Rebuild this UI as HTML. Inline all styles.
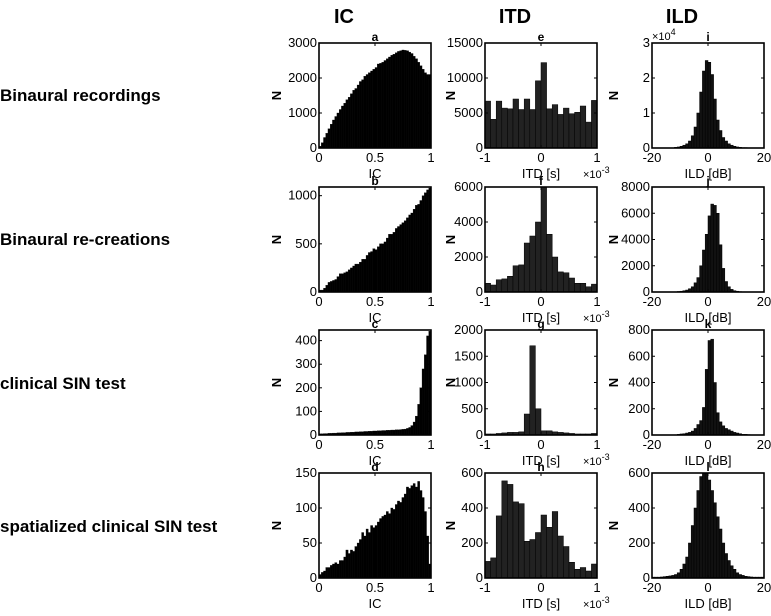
<!DOCTYPE html>
<html><head><meta charset="utf-8"><style>
body{margin:0;background:#fff;width:771px;height:611px;overflow:hidden}
svg{font-family:"Liberation Sans",Arial,sans-serif}
</style></head><body>
<svg id="fig" width="771" height="611" viewBox="0 0 771 611">
<g font-weight="bold" font-size="20" text-anchor="middle">
<text x="344" y="23">IC</text>
<text x="515" y="23">ITD</text>
<text x="682" y="23">ILD</text>
</g>
<g font-weight="bold" font-size="17">
<text x="0" y="101">Binaural recordings</text>
<text x="0" y="245">Binaural re-creations</text>
<text x="0" y="389">clinical SIN test</text>
<text x="0" y="532">spatialized clinical SIN test</text>
</g>
</svg>
<script>
const icA=[50,150,300,420,550,680,800,900,1000,1100,1200,1280,1380,1450,1550,1650,1700,1800,1900,1950,2050,2100,2150,2200,2250,2300,2400,2420,2450,2500,2550,2600,2650,2680,2720,2760,2780,2800,2790,2780,2740,2700,2620,2550,2450,2350,2250,2150,2100,2100];
const icB=[20,20,40,70,100,110,120,130,160,190,190,200,210,230,250,270,290,290,310,340,340,380,410,420,450,440,470,500,500,520,560,600,600,620,660,680,700,720,740,770,800,820,860,900,910,950,1000,1030,1060,1080];
const icC=[5,5,6,6,7,7,8,8,9,9,10,10,11,11,12,12,13,13,14,14,15,15,16,16,17,17,18,18,19,19,20,20,21,21,22,22,23,24,25,28,32,40,55,80,130,200,280,340,420,440];
const icD=[5,8,10,15,15,18,20,22,20,25,25,30,40,35,40,38,45,50,55,65,60,70,65,75,72,75,80,85,88,90,95,92,100,98,105,110,108,115,120,130,128,132,135,130,138,125,115,95,60,20];
const itdE=[6700,4100,6700,5700,5600,7000,5500,7000,5500,9600,12200,5600,6200,4800,5700,4900,5100,6000,3700,6800];
const itdF=[500,400,700,750,900,1500,1550,2800,3200,4000,6000,3300,2000,1150,1100,800,500,500,300,450];
const itdG=[20,20,30,40,50,50,60,400,1700,500,80,80,60,50,40,30,20,20,20,30];
const itdH=[95,115,355,555,535,435,425,210,220,260,360,290,380,240,180,90,50,60,40,80];
const ildI=[0,0,0,0,0,0,0,0,0.02,0.03,0.05,0.08,0.12,0.2,0.35,0.6,1.0,1.6,2.2,2.5,2.45,2.1,1.4,0.8,0.5,0.3,0.2,0.12,0.08,0.05,0.03,0.02,0.01,0.01,0,0,0,0,0,0];
const ildJ=[0,0,0,0,0,0,0,0,20,40,60,100,150,250,400,700,1100,2000,3200,4400,5800,6700,6600,6000,3600,1800,800,400,200,100,60,30,20,10,0,0,0,0,0,0];
const ildK=[0,0,0,0,0,0,0,0,2,5,8,10,15,20,30,50,80,110,210,500,720,730,400,170,100,70,50,40,30,20,15,10,5,5,3,2,0,0,0,0];
const ildL=[5,5,5,6,8,10,12,15,20,30,50,80,120,200,300,400,500,580,600,600,560,500,430,350,280,200,140,100,70,50,30,20,15,10,8,6,5,5,5,5];
const icTicks=[0,0.5,1], itdTicks=[-1,0,1], ildTicks=[-20,0,20];
const icTickLabels=["0","0.5","1"], itdTickLabels=["-1","0","1"], ildTickLabels=["-20","0","20"];

const svg=document.getElementById('fig');
const NS='http://www.w3.org/2000/svg';
function mk(tag,attrs,parent){const e=document.createElementNS(NS,tag);for(const k in attrs)e.setAttribute(k,attrs[k]);(parent||svg).appendChild(e);return e;}
const colX=[319,485,652], rowY=[43,187,330,473], W=112, H=105;
const nOff=[38,30,34];
const panels=[
 {r:0,c:0,id:'a',data:icA,xr:[0,1],ymax:3000,yt:[0,1000,2000,3000],xt:icTicks,xl:icTickLabels,lab:'IC',fill:'#000'},
 {r:1,c:0,id:'b',data:icB,xr:[0,1],ymax:1090,yt:[0,500,1000],xt:icTicks,xl:icTickLabels,lab:'IC',fill:'#000'},
 {r:2,c:0,id:'c',data:icC,xr:[0,1],ymax:445,yt:[0,100,200,300,400],xt:icTicks,xl:icTickLabels,lab:'IC',fill:'#000'},
 {r:3,c:0,id:'d',data:icD,xr:[0,1],ymax:150,yt:[0,50,100,150],xt:icTicks,xl:icTickLabels,lab:'IC',fill:'#000'},
 {r:0,c:1,id:'e',data:itdE,xr:[-1,1],ymax:15000,yt:[0,5000,10000,15000],xt:itdTicks,xl:itdTickLabels,lab:'ITD [s]',fill:'#222',exp:true},
 {r:1,c:1,id:'f',data:itdF,xr:[-1,1],ymax:6000,yt:[0,2000,4000,6000],xt:itdTicks,xl:itdTickLabels,lab:'ITD [s]',fill:'#222',exp:true},
 {r:2,c:1,id:'g',data:itdG,xr:[-1,1],ymax:2000,yt:[0,500,1000,1500,2000],xt:itdTicks,xl:itdTickLabels,lab:'ITD [s]',fill:'#222',exp:true},
 {r:3,c:1,id:'h',data:itdH,xr:[-1,1],ymax:600,yt:[0,200,400,600],xt:itdTicks,xl:itdTickLabels,lab:'ITD [s]',fill:'#222',exp:true},
 {r:0,c:2,id:'i',data:ildI,xr:[-20,20],ymax:3,yt:[0,1,2,3],xt:ildTicks,xl:ildTickLabels,lab:'ILD [dB]',fill:'#111',e4:true},
 {r:1,c:2,id:'j',data:ildJ,xr:[-20,20],ymax:8000,yt:[0,2000,4000,6000,8000],xt:ildTicks,xl:ildTickLabels,lab:'ILD [dB]',fill:'#111'},
 {r:2,c:2,id:'k',data:ildK,xr:[-20,20],ymax:800,yt:[0,200,400,600,800],xt:ildTicks,xl:ildTickLabels,lab:'ILD [dB]',fill:'#111'},
 {r:3,c:2,id:'l',data:ildL,xr:[-20,20],ymax:600,yt:[0,200,400,600],xt:ildTicks,xl:ildTickLabels,lab:'ILD [dB]',fill:'#111'}
];
panels.forEach(p=>{
 const x0=colX[p.c], y0=rowY[p.r];
 const g=mk('g',{});
 
 
 const sx=v=>x0+(v-p.xr[0])/(p.xr[1]-p.xr[0])*W;
 const sy=v=>y0+H-Math.min(v,p.ymax)/p.ymax*H;
 const n=p.data.length, bw=(p.xr[1]-p.xr[0])/n;
 const clip='clip-'+p.id;
 const cp=mk('clipPath',{id:clip},g); mk('rect',{x:x0,y:y0,width:W,height:H},cp);
 const bars=mk('g',{'clip-path':'url(#'+clip+')'},g);
 p.data.forEach((v,i)=>{
  const xa=sx(p.xr[0]+i*bw), xb=sx(p.xr[0]+(i+1)*bw);
  const b=mk('rect',{x:xa,y:sy(v),width:xb-xa,height:y0+H-sy(v),fill:p.fill,stroke:'#000','stroke-width':p.c===0?0.3:0.5},bars);
  
  
 });
 const fr=mk('rect',{x:x0,y:y0,width:W,height:H,fill:'none',stroke:'#000','stroke-width':1.6},g);
 
 
 p.yt.forEach(t=>{
  const y=sy(t);
  mk('line',{x1:x0,x2:x0+3,y1:y,y2:y,stroke:'#000'},g);
  mk('line',{x1:x0+W,x2:x0+W-3,y1:y,y2:y,stroke:'#000'},g);
  const tx=mk('text',{x:x0-2,y:y+4,'font-size':13,'text-anchor':'end'},g);
  tx.textContent=String(t);
  
  
 });
 p.xt.forEach((t,i)=>{
  const x=sx(t);
  mk('line',{x1:x,x2:x,y1:y0+H,y2:y0+H-3,stroke:'#000'},g);
  mk('line',{x1:x,x2:x,y1:y0,y2:y0+3,stroke:'#000'},g);
  const tx=mk('text',{x:x,y:y0+H+14,'font-size':13,'text-anchor':'middle'},g);
  tx.textContent=p.xl[i];
  
  
 });
 const xl=mk('text',{x:x0+W/2,y:y0+H+30,'font-size':13,'text-anchor':'middle'},g);
 xl.textContent=p.lab;
 
 
 const yl=mk('text',{x:0,y:0,'font-size':13,'font-weight':'bold','text-anchor':'middle',transform:'translate('+(x0-nOff[p.c])+','+(y0+H/2)+') rotate(-90)'},g);
 yl.textContent='N';
 
 
 const tl=mk('text',{x:x0+W/2,y:y0-2,'font-size':12,'font-weight':'bold','text-anchor':'middle'},g);
 tl.textContent=p.id;
 
 
 if(p.exp){
  const ex=mk('text',{x:x0+W-14,y:y0+H+30,'font-size':11},g);
  ex.innerHTML='×10<tspan dy="-5" font-size="9">-3</tspan>';
  
  
 }
 if(p.e4){
  const ex=mk('text',{x:x0,y:y0-3,'font-size':11},g);
  ex.innerHTML='×10<tspan dy="-5" font-size="9">4</tspan>';
  
  
 }
});
</script>
</body></html>
